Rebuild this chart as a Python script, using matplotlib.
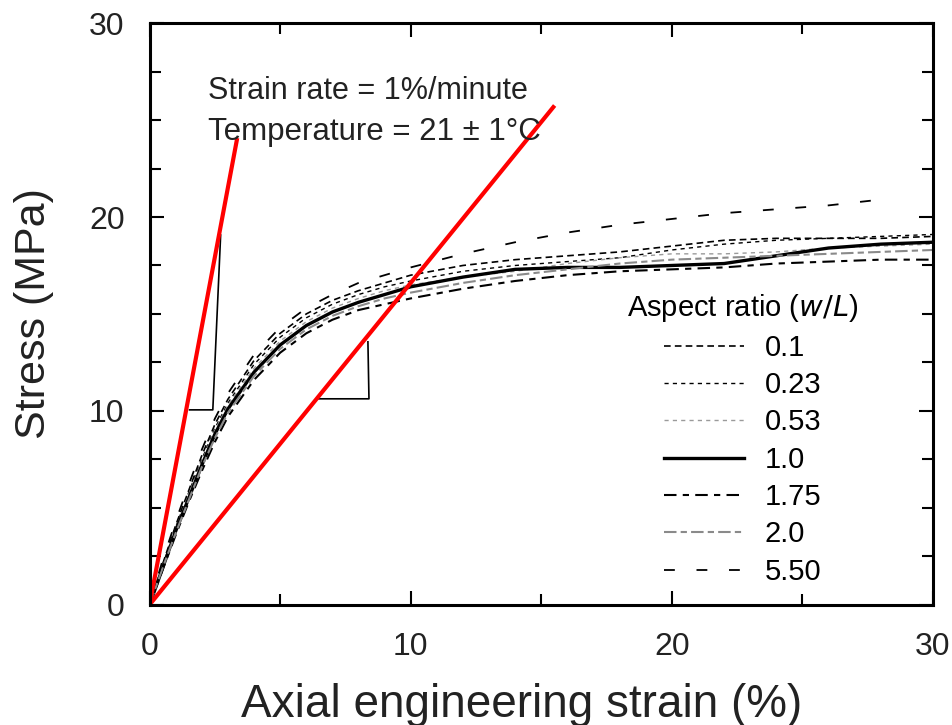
import matplotlib.pyplot as plt
import numpy as np
from matplotlib.ticker import MultipleLocator

plt.rcParams['font.family'] = ['Liberation Sans', 'DejaVu Sans']

# strain grid (%) shared by all curves
strain = [0, 0.5, 1, 1.5, 2, 2.5, 3, 4, 5, 6, 7, 8, 9, 10,
          12, 14, 16, 18, 20, 22, 24, 26, 28, 30]

# stress (MPa) for each aspect ratio w/L
s_01 = [0, 2.1, 4.1, 5.9, 7.7, 9.3, 10.6, 12.6, 14.0, 15.0, 15.7, 16.2, 16.6, 17.0,
        17.5, 17.8, 18.0, 18.2, 18.5, 18.8, 18.9, 18.9, 18.9, 19.0]
s_023 = [0, 2.0, 4.0, 5.8, 7.5, 9.1, 10.4, 12.4, 13.8, 14.8, 15.5, 16.0, 16.4, 16.7,
         17.2, 17.5, 17.7, 17.9, 18.3, 18.6, 18.8, 18.9, 19.0, 19.1]
s_053 = [0, 2.0, 3.9, 5.7, 7.4, 9.0, 10.3, 12.2, 13.6, 14.6, 15.3, 15.8, 16.2, 16.5,
         16.9, 17.2, 17.6, 17.9, 18.1, 18.1, 18.2, 18.4, 18.5, 18.6]
s_10 = [0, 1.9, 3.8, 5.5, 7.2, 8.8, 10.1, 12.0, 13.4, 14.4, 15.1, 15.6, 16.0, 16.4,
        16.9, 17.3, 17.4, 17.4, 17.5, 17.6, 18.0, 18.4, 18.6, 18.7]
s_175 = [0, 1.8, 3.6, 5.3, 6.9, 8.4, 9.7, 11.6, 13.0, 14.0, 14.7, 15.2, 15.5, 15.8,
         16.3, 16.7, 17.0, 17.2, 17.3, 17.4, 17.6, 17.7, 17.8, 17.8]
s_20 = [0, 1.9, 3.7, 5.4, 7.1, 8.6, 9.9, 11.8, 13.2, 14.2, 14.9, 15.4, 15.8, 16.1,
        16.6, 17.0, 17.3, 17.6, 17.8, 17.9, 18.0, 18.1, 18.2, 18.3]
s_55 = [0, 2.3, 4.3, 6.2, 8.0, 9.6, 10.9, 12.9, 14.3, 15.3, 16.0, 16.6, 17.0, 17.4,
        18.1, 18.7, 19.2, 19.6, 19.9, 20.2, 20.4, 20.6, 20.9, np.nan]

labels = ['0.1', '0.23', '0.53', '1.0', '1.75', '2.0', '5.50']

# tangent lines (initial and secant modulus) and slope triangles
tan1_x, tan1_y = [0, 3.34], [0, 23.97]
tan2_x, tan2_y = [0, 15.46], [0, 25.67]
tri1_x, tri1_y = [1.53, 2.42, 2.72], [10.05, 10.05, 19.07]
tri2_x, tri2_y = [6.44, 8.40, 8.36], [10.62, 10.62, 13.56]

txt_col = '#222222'

fig = plt.figure(figsize=(9.53, 7.25), dpi=100)
ax = fig.add_axes([0.157, 0.166, 0.822, 0.802])

styles = [
    dict(color='black', lw=1.2, ls=(0, (4, 2.5))),
    dict(color='black', lw=1.0, ls=(0, (3, 3))),
    dict(color='#9a9a9a', lw=1.0, ls=(0, (3, 3))),
    dict(color='black', lw=2.4, ls='-'),
    dict(color='black', lw=1.5, ls=(0, (6, 3, 3, 3))),
    dict(color='#8a8a8a', lw=1.5, ls=(0, (6, 2, 3, 2))),
    dict(color='black', lw=1.3, ls=(0, (6, 12))),
]
for s, lab, st in zip([s_01, s_023, s_053, s_10, s_175, s_20, s_55], labels, styles):
    ax.plot(strain, s, label=lab, **st)

ax.plot(tri1_x, tri1_y, color='black', lw=1.2)
ax.plot(tri2_x, tri2_y, color='black', lw=1.2)
ax.plot(tan1_x, tan1_y, color='red', lw=3)
ax.plot(tan2_x, tan2_y, color='red', lw=3)

ax.text(2.22, 26.5, 'Strain rate = 1%/minute', fontsize=22, va='center', color=txt_col)
ax.text(2.22, 24.4, 'Temperature = 21 \u00b1 1\u00b0C', fontsize=22.5, va='center', color=txt_col)

ax.set_xlim(0, 30)
ax.set_ylim(0, 30)
ax.xaxis.set_major_locator(MultipleLocator(10))
ax.xaxis.set_minor_locator(MultipleLocator(5))
ax.yaxis.set_major_locator(MultipleLocator(10))
ax.yaxis.set_minor_locator(MultipleLocator(2.5))
ax.tick_params(which='both', direction='in', top=True, right=True, width=1.5)
ax.tick_params(which='major', length=10, labelsize=23, labelcolor=txt_col)
ax.tick_params(axis='x', which='major', pad=20)
ax.tick_params(axis='y', which='major', pad=18)
ax.tick_params(which='minor', length=8)
for sp in ax.spines.values():
    sp.set_linewidth(2.2)

ax.set_xlabel('Axial engineering strain (%)', fontsize=33, color=txt_col)
ax.xaxis.set_label_coords(0.475, -0.134)
ax.set_ylabel('Stress (MPa)', fontsize=31, color=txt_col, labelpad=25)

ax.legend(title=r'Aspect ratio ($\it{w/L}$)', loc='upper left',
          bbox_to_anchor=(0.576, 0.582), frameon=False, fontsize=21,
          title_fontsize=21, handlelength=2.75, handletextpad=0.7,
          labelspacing=0.32)

fig.savefig('out.png', dpi=100)
